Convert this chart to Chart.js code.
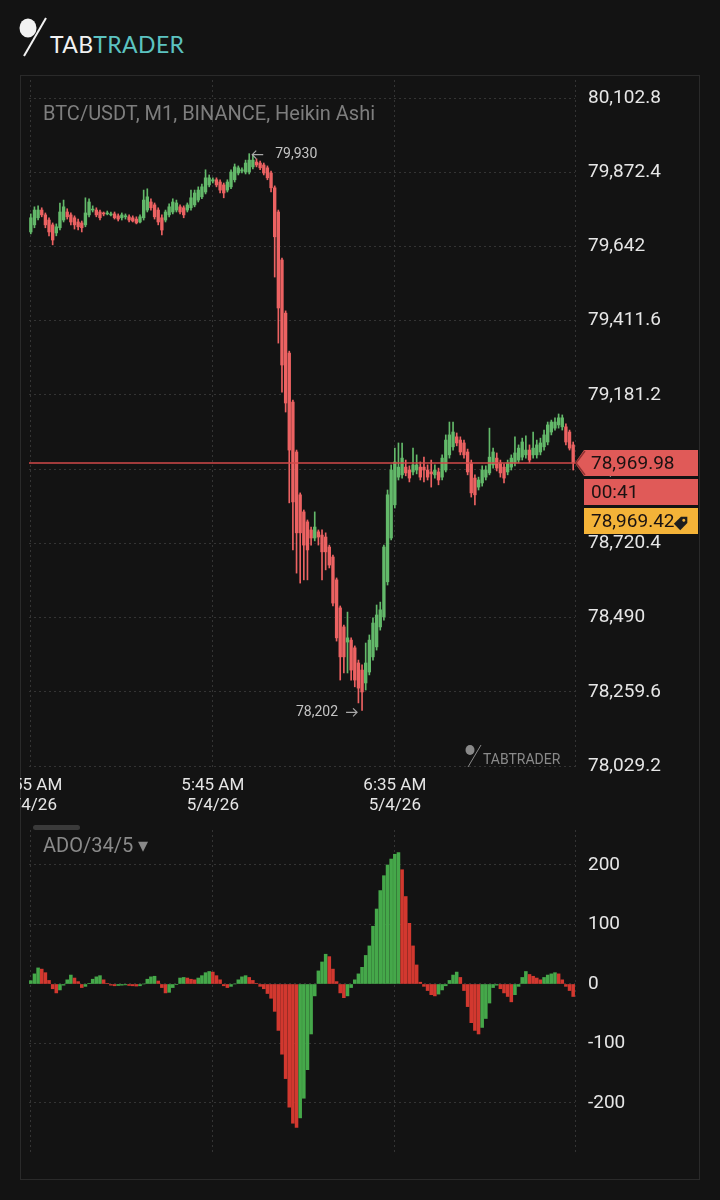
<!DOCTYPE html>
<html>
<head>
<meta charset="utf-8">
<script src="https://cdn.jsdelivr.net/npm/chart.js@4.4.1/dist/chart.umd.min.js"></script>
<style>
  html, body { margin: 0; padding: 0; background: #131313; }
  body { width: 720px; height: 1200px; position: relative; overflow: hidden; font-family: Roboto, sans-serif; }
  #logoIcon { position: absolute; left: 17px; top: 16px; }
  #logoText { position: absolute; left: 50px; top: 32px; font-family: Lato, sans-serif; font-size: 23px; line-height: 24px; letter-spacing: 0.4px; }
  #logoText .tab { color: #f2f2f2; }
  #logoText .trader { color: #5cc3c1; }
  #panel { position: absolute; left: 20px; top: 75px; width: 680px; height: 1105px; border: 1px solid #2a2a2a; box-sizing: border-box; }
  #priceWrap { position: absolute; left: 20px; top: 75px; }
  #adoWrap { position: absolute; left: 20px; top: 820px; }
</style>
</head>
<body>
<svg id="logoIcon" width="36" height="44" viewBox="0 0 36 44">
  <ellipse cx="11" cy="12" rx="8.5" ry="9.5" fill="#f2f2f2"/>
  <line x1="7" y1="40" x2="29" y2="2" stroke="#f2f2f2" stroke-width="2"/>
</svg>
<div id="logoText"><span class="tab">TAB</span><span class="trader">TRADER</span></div>
<div id="panel"></div>
<div id="priceWrap"><canvas id="priceChart" width="680" height="745"></canvas></div>
<div id="adoWrap"><canvas id="adoChart" width="680" height="360"></canvas></div>

<script>
// Heikin Ashi candles, BTC/USDT M1, one per minute starting 4:55 AM
const opens = [
  79687, 79709, 79731, 79755, 79740, 79724, 79709, 79684, 79700, 79724,
  79749, 79740, 79731, 79718, 79715, 79709, 79740, 79755, 79755, 79749,
  79746, 79743, 79740, 79743, 79737, 79731, 79734, 79734, 79731, 79727,
  79718, 79731, 79755, 79780, 79771, 79755, 79731, 79724, 79740, 79749,
  79755, 79765, 79762, 79755, 79762, 79771, 79786, 79796, 79811, 79833,
  79845, 79849, 79842, 79833, 79817, 79827, 79849, 79870, 79876, 79873,
  79873, 79889, 79904, 79901, 79895, 79886, 79870, 79824, 79749, 79600,
  79435, 79311, 79159, 79004, 78871, 78818, 78787, 78762, 78737, 78756,
  78746, 78740, 78709, 78678, 78607, 78520, 78461, 78414, 78420, 78396,
  78349, 78327, 78287, 78321, 78368, 78399, 78461, 78492, 78601, 78737,
  78840, 78926, 78933, 78957, 78948, 78942, 78948, 78957, 78957, 78948,
  78942, 78933, 78942, 78926, 78948, 78995, 79020, 79051, 79041, 79032,
  79004, 78970, 78923, 78895, 78908, 78926, 78939, 78964, 78985, 78970,
  78957, 78942, 78957, 78970, 78979, 78988, 78995, 79010, 78995, 78995,
  79004, 79020, 79035, 79066, 79078, 79088, 79082, 79082, 79066, 79026
];
const highs = [
  79743, 79765, 79768, 79762, 79746, 79731, 79715, 79712, 79777, 79786,
  79759, 79746, 79737, 79727, 79721, 79793, 79790, 79768, 79762, 79755,
  79749, 79752, 79749, 79749, 79743, 79746, 79743, 79740, 79737, 79734,
  79740, 79817, 79821, 79790, 79777, 79762, 79740, 79755, 79774, 79790,
  79786, 79771, 79768, 79777, 79817, 79817, 79827, 79836, 79880, 79864,
  79855, 79855, 79849, 79839, 79849, 79880, 79898, 79892, 79886, 79910,
  79930, 79926, 79914, 79907, 79901, 79892, 79876, 79830, 79755, 79606,
  79442, 79317, 79165, 79010, 78877, 78824, 78793, 78771, 78818, 78762,
  78762, 78753, 78715, 78684, 78613, 78526, 78467, 78507, 78427, 78402,
  78358, 78343, 78411, 78436, 78489, 78529, 78538, 78715, 78886, 78964,
  79016, 79032, 79032, 78979, 78961, 79016, 78995, 78973, 78988, 78964,
  78979, 78964, 78954, 78995, 79057, 79097, 79097, 79063, 79051, 79041,
  79013, 78979, 78933, 78926, 78961, 78961, 79078, 79016, 79001, 78979,
  78967, 78979, 78995, 79051, 79026, 79047, 79054, 79026, 79066, 79041,
  79047, 79072, 79097, 79103, 79110, 79122, 79119, 79091, 79072, 79035
];
const lows = [
  79681, 79700, 79724, 79734, 79700, 79675, 79647, 79675, 79693, 79718,
  79727, 79709, 79696, 79693, 79687, 79703, 79734, 79749, 79734, 79724,
  79737, 79740, 79737, 79727, 79721, 79724, 79727, 79718, 79718, 79712,
  79715, 79724, 79749, 79755, 79727, 79709, 79678, 79718, 79734, 79743,
  79749, 79743, 79731, 79749, 79755, 79765, 79780, 79790, 79805, 79827,
  79839, 79827, 79808, 79793, 79811, 79821, 79842, 79864, 79870, 79867,
  79867, 79883, 79889, 79880, 79864, 79849, 79811, 79547, 79342, 79190,
  79128, 78846, 78700, 78628, 78597, 78607, 78607, 78715, 78728, 78715,
  78607, 78638, 78644, 78526, 78417, 78296, 78318, 78318, 78296, 78275,
  78225, 78202, 78265, 78312, 78358, 78389, 78451, 78482, 78591, 78731,
  78830, 78917, 78923, 78930, 78911, 78933, 78936, 78917, 78911, 78917,
  78895, 78923, 78902, 78917, 78942, 78985, 79010, 79023, 78995, 78985,
  78933, 78864, 78840, 78886, 78898, 78917, 78933, 78954, 78945, 78926,
  78908, 78933, 78948, 78961, 78970, 78979, 78985, 78970, 78985, 78985,
  78995, 79010, 79026, 79057, 79072, 79078, 79072, 79026, 79010, 78948
];
const closes = [
  79731, 79755, 79755, 79740, 79709, 79687, 79662, 79703, 79749, 79765,
  79734, 79718, 79709, 79703, 79700, 79746, 79780, 79758, 79740, 79731,
  79743, 79746, 79743, 79731, 79727, 79740, 79737, 79724, 79721, 79715,
  79734, 79786, 79796, 79762, 79734, 79718, 79693, 79749, 79765, 79780,
  79777, 79749, 79740, 79771, 79793, 79808, 79817, 79827, 79855, 79855,
  79849, 79833, 79817, 79808, 79842, 79873, 79889, 79886, 79880, 79901,
  79910, 79910, 79895, 79886, 79870, 79855, 79824, 79672, 79451, 79274,
  79156, 79010, 78849, 78753, 78753, 78715, 78700, 78737, 78771, 78740,
  78694, 78694, 78653, 78535, 78427, 78368, 78368, 78427, 78327, 78296,
  78271, 78259, 78349, 78420, 78473, 78498, 78514, 78709, 78871, 78948,
  78973, 78957, 78985, 78939, 78923, 78964, 78964, 78926, 78948, 78926,
  78936, 78948, 78917, 78985, 79041, 79057, 79066, 79032, 79004, 78995,
  78942, 78877, 78871, 78917, 78948, 78948, 78988, 79004, 78954, 78939,
  78923, 78970, 78985, 79001, 79016, 79035, 79010, 78979, 79016, 79026,
  79032, 79057, 79088, 79097, 79097, 79110, 79110, 79035, 79016, 78969.98
];

// ADO/34/5 histogram
const adoValues = [
  5.6, 17, 27, 25, 19, 6, -8, -15, -10, -2,
  7, 15, 10, 4, -6, -4, 1, 8, 12, 14,
  7, 1, -2, -3, -2.5, -2, -1.5, -2.5, -3, -3.5,
  -3, 0, 8, 12, 13, 5, -6, -15, -14, -6,
  -1, 10, 11, 10, 8, 7, 10, 14, 19, 21,
  20, 14, 7, -3, -6, -4, 0, 7, 12, 14,
  11, 6, 1, -4, -8, -16, -24, -46, -78, -118,
  -159, -207, -234, -241, -225, -192, -144, -84, -20, 22,
  37, 50, 46, 25, 4, -15, -23, -20, -6, 7,
  17, 28, 48, 64, 97, 126, 157, 182, 200, 210,
  218, 221, 192, 147, 102, 64, 32, 3, -4, -11,
  -18, -20, -17, -10, -3, 6, 15, 20, 11, -11,
  -38, -65, -78, -84, -73, -58, -32, -6, -2, -8,
  -15, -21, -30, -18, -4, 11, 21, 16, 13, 10,
  7, 11, 15, 17, 19, 17, 7, -4, -11, -21
];

const timeTickValues = [0, 50, 100];
const timeTickLabels = [['4:55 AM', '5/4/26'], ['5:45 AM', '5/4/26'], ['6:35 AM', '5/4/26']];
const priceTicks = [78029.2, 78259.6, 78490, 78720.4, 78950.8, 79181.2, 79411.6, 79642, 79872.4, 80102.8];
const adoTicks = [-200, -100, 0, 100, 200];

const lastPrice = 78969.98;
const markPrice = 78969.42;
const countdown = '00:41';
const highIndex = 60;
const lowIndex = 91;

const candleUp = '#63b96a';
const candleDown = '#ec6262';
const adoUp = '#45a84a';
const adoDown = '#d2382f';
const gridColor = '#343434';
const labelColor = '#e6e6e6';
const fontFamily = 'Roboto, "DejaVu Sans", sans-serif';

const candleColors = opens.map((o, i) => closes[i] >= o ? candleUp : candleDown);
const adoColors = adoValues.map((v, i) => (i === 0 || v > adoValues[i - 1]) ? adoUp : adoDown);
const gridX = [...timeTickValues, 149.5];

function fmtPrice(v) {
    return v.toLocaleString('en-US', { maximumFractionDigits: 2 });
}

// lijn + labels rechts
const priceOverlay = {
    id: 'priceOverlay',
    afterDatasetsDraw(chart) {
        const { ctx, chartArea, scales: { y } } = chart;
        const py = y.getPixelForValue(lastPrice);
        ctx.save();
        ctx.strokeStyle = '#d24a4a';
        ctx.lineWidth = 1.4;
        ctx.beginPath();
        ctx.moveTo(chartArea.left, py);
        ctx.lineTo(chartArea.right, py);
        ctx.stroke();
        ctx.restore();
    },
    afterDraw(chart) {
        const { ctx, chartArea, scales: { x, y } } = chart;
        ctx.save();

        // title
        ctx.font = '20px ' + fontFamily;
        ctx.fillStyle = '#7e7e7e';
        ctx.textBaseline = 'middle';
        ctx.textAlign = 'left';
        ctx.fillText('BTC/USDT, M1, BINANCE, Heikin Ashi', 23, 40);

        // high / low markers
        ctx.font = '14px ' + fontFamily;
        ctx.fillStyle = '#c4c4c4';
        ctx.strokeStyle = '#a8a8a8';
        ctx.lineWidth = 1.2;
        const hx = x.getPixelForValue(highIndex);
        const hy = y.getPixelForValue(highs[highIndex]) + 1;
        ctx.beginPath();
        ctx.moveTo(hx + 14, hy); ctx.lineTo(hx + 3, hy);
        ctx.moveTo(hx + 7, hy - 4); ctx.lineTo(hx + 3, hy); ctx.lineTo(hx + 7, hy + 4);
        ctx.stroke();
        ctx.fillText(fmtPrice(highs[highIndex]), hx + 26, hy);

        const lx = x.getPixelForValue(lowIndex);
        const ly = y.getPixelForValue(lows[lowIndex]) + 2;
        ctx.beginPath();
        ctx.moveTo(lx - 16, ly); ctx.lineTo(lx - 5, ly);
        ctx.moveTo(lx - 9, ly - 4); ctx.lineTo(lx - 5, ly); ctx.lineTo(lx - 9, ly + 4);
        ctx.stroke();
        ctx.textAlign = 'right';
        ctx.fillText(fmtPrice(lows[lowIndex]), lx - 24, ly);

        // watermark
        const wx = chartArea.right - 105, wy = chartArea.bottom - 20;
        ctx.fillStyle = '#8a8a8a';
        ctx.beginPath();
        ctx.ellipse(wx, wy, 4.5, 5, 0, 0, Math.PI * 2);
        ctx.fill();
        ctx.strokeStyle = '#8a8a8a';
        ctx.lineWidth = 1;
        ctx.beginPath();
        ctx.moveTo(wx - 2, wy + 17); ctx.lineTo(wx + 11, wy - 5);
        ctx.stroke();
        ctx.font = '14px ' + fontFamily;
        ctx.textAlign = 'left';
        ctx.fillText('TABTRADER', wx + 13, wy + 10);

        // price boxes
        const py = Math.round(y.getPixelForValue(lastPrice));
        const bx = chartArea.right + 9, bw = 678 - bx, bh = 26;
        ctx.fillStyle = '#e05a58';
        ctx.beginPath();
        ctx.moveTo(chartArea.right, py);
        ctx.lineTo(bx, py - bh / 2);
        ctx.lineTo(bx + bw, py - bh / 2);
        ctx.lineTo(bx + bw, py + bh / 2);
        ctx.lineTo(bx, py + bh / 2);
        ctx.closePath();
        ctx.fill();
        ctx.strokeStyle = '#8e3232';
        ctx.lineWidth = 1.5;
        ctx.beginPath();
        ctx.moveTo(bx + 1, py - bh / 2 + 1);
        ctx.lineTo(chartArea.right + 1, py);
        ctx.lineTo(bx + 1, py + bh / 2 - 1);
        ctx.stroke();

        ctx.fillStyle = '#e05a58';
        ctx.fillRect(bx, py + bh / 2 + 3, bw, bh);
        ctx.fillStyle = '#f4b338';
        ctx.fillRect(bx, py + bh * 1.5 + 6, bw, bh);

        ctx.font = '19px ' + fontFamily;
        ctx.fillStyle = '#1a1212';
        ctx.textAlign = 'left';
        ctx.textBaseline = 'middle';
        ctx.fillText(fmtPrice(lastPrice), bx + 7, py + 1);
        ctx.fillText(countdown, bx + 7, py + bh + 4);
        ctx.fillText(fmtPrice(markPrice), bx + 7, py + bh * 2 + 7);

        // tag icon
        const tx = bx + bw - 16, ty = py + bh * 2 + 7;
        ctx.save();
        ctx.translate(tx, ty);
        ctx.rotate(-Math.PI / 4);
        ctx.fillStyle = '#1e1e1e';
        ctx.beginPath();
        ctx.moveTo(-7, -4.5); ctx.lineTo(3, -4.5); ctx.lineTo(7.5, 0); ctx.lineTo(3, 4.5); ctx.lineTo(-7, 4.5);
        ctx.closePath();
        ctx.fill();
        ctx.fillStyle = '#f4b338';
        ctx.beginPath();
        ctx.arc(2.5, 0, 1.5, 0, Math.PI * 2);
        ctx.fill();
        ctx.restore();

        ctx.restore();
    }
};

const adoOverlay = {
    id: 'adoOverlay',
    afterDraw(chart) {
        const { ctx } = chart;
        ctx.save();
        ctx.fillStyle = '#3a3a3a';
        ctx.beginPath();
        ctx.roundRect(13, 5, 47, 5, 2.5);
        ctx.fill();
        ctx.font = '20px ' + fontFamily;
        ctx.fillStyle = '#8a8a8a';
        ctx.textBaseline = 'middle';
        ctx.fillText('ADO/34/5 \u25BE', 23, 27);
        ctx.restore();
    }
};

const gridOpts = { color: gridColor, lineWidth: 1, drawTicks: false, offset: false };
const borderOpts = { display: false, dash: [2, 3] };

// Grafik harga
new Chart(document.getElementById('priceChart'), {
    type: 'bar',
    data: {
        datasets: [
            {
                label: 'body',
                data: opens.map((o, i) => ({ x: i, y: [o, closes[i]] })),
                backgroundColor: candleColors,
                barThickness: 2.7,
                minBarLength: 1,
                grouped: false,
                order: 1
            },
            {
                label: 'wick',
                data: lows.map((l, i) => ({ x: i, y: [l, highs[i]] })),
                backgroundColor: candleColors,
                barThickness: 1,
                grouped: false,
                order: 2
            }
        ]
    },
    options: {
        responsive: false,
        animation: false,
        events: [],
        layout: { padding: { left: 9, top: 5, right: 0, bottom: 0 } },
        plugins: { legend: { display: false }, tooltip: { enabled: false } },
        scales: {
            x: {
                type: 'linear',
                min: -0.5,
                max: 149.5,
                offset: false,
                grid: gridOpts,
                border: borderOpts,
                afterBuildTicks: (scale) => { scale.ticks = gridX.map(v => ({ value: v })); },
                ticks: {
                    color: labelColor,
                    font: { family: fontFamily, size: 17, lineHeight: 1.15 },
                    padding: 6,
                    maxRotation: 0,
                    autoSkip: false,
                    callback: (value) => {
                        const k = timeTickValues.indexOf(value);
                        return k >= 0 ? timeTickLabels[k] : '';
                    }
                },
                afterFit: (scale) => { scale.height = 50; scale.paddingLeft = 0; scale.paddingRight = 0; }
            },
            y: {
                position: 'right',
                min: 78016.8,
                max: 80158.7,
                grid: gridOpts,
                border: borderOpts,
                afterBuildTicks: (scale) => { scale.ticks = priceTicks.map(v => ({ value: v })); },
                ticks: {
                    color: labelColor,
                    font: { family: fontFamily, size: 19 },
                    padding: 13,
                    callback: (value) => value.toLocaleString('en-US', { maximumFractionDigits: 1 })
                },
                afterFit: (scale) => { scale.width = 125; scale.paddingTop = 0; scale.paddingBottom = 0; }
            }
        }
    },
    plugins: [priceOverlay]
});

// Grafik ADO
new Chart(document.getElementById('adoChart'), {
    type: 'bar',
    data: {
        datasets: [{
            label: 'ADO',
            data: adoValues.map((v, i) => ({ x: i, y: v })),
            backgroundColor: adoColors,
            barThickness: 2.9,
            grouped: false
        }]
    },
    options: {
        responsive: false,
        animation: false,
        events: [],
        layout: { padding: { left: 9, top: 10, right: 0, bottom: 0 } },
        plugins: { legend: { display: false }, tooltip: { enabled: false } },
        scales: {
            x: {
                type: 'linear',
                min: -0.5,
                max: 149.5,
                offset: false,
                grid: gridOpts,
                border: borderOpts,
                afterBuildTicks: (scale) => { scale.ticks = gridX.map(v => ({ value: v })); },
                ticks: { display: false },
                afterFit: (scale) => { scale.height = 25; scale.paddingLeft = 0; scale.paddingRight = 0; }
            },
            y: {
                position: 'right',
                min: -287.4,
                max: 258.8,
                grid: gridOpts,
                border: borderOpts,
                afterBuildTicks: (scale) => { scale.ticks = adoTicks.map(v => ({ value: v })); },
                ticks: {
                    color: labelColor,
                    font: { family: fontFamily, size: 19 },
                    padding: 13
                },
                afterFit: (scale) => { scale.width = 125; scale.paddingTop = 0; scale.paddingBottom = 0; }
            }
        }
    },
    plugins: [adoOverlay]
});
</script>
</body>
</html>
